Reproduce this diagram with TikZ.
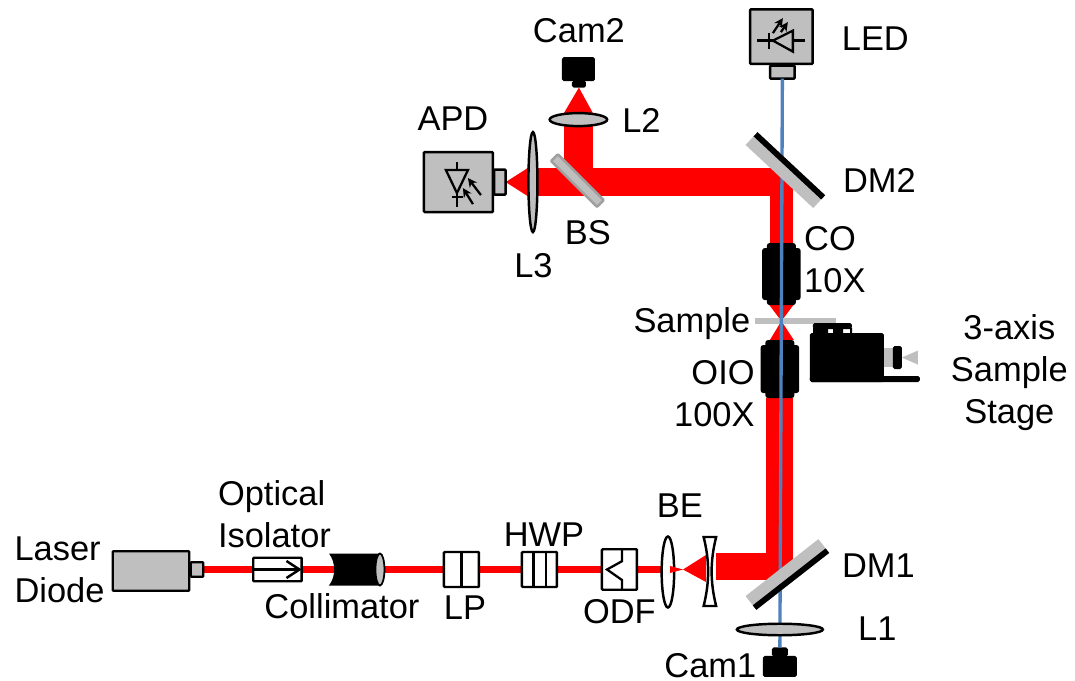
\documentclass[tikz,border=0pt]{standalone}
\usepackage{fontspec}
\setmainfont{Liberation Sans}
\usetikzlibrary{shapes.geometric, arrows, arrows.meta, positioning, backgrounds, calc}
\definecolor{partgray}{HTML}{BFBFBF}
\definecolor{ledblue}{HTML}{4F81BD}
\tikzstyle{part} = [draw, rectangle, line width=1.4pt, inner sep=0pt, outer sep=0pt, rounded corners=0.5pt, fill=partgray]
\tikzstyle{plate} = [part, fill=white]
\tikzstyle{darkpart} = [rectangle, inner sep=0pt, outer sep=0pt, rounded corners=1pt, fill=black]
\tikzstyle{lens} = [draw, ellipse, line width=1.4pt, inner sep=0pt, outer sep=0pt, fill=partgray]
\tikzstyle{objective} = [darkpart, rounded corners=1.5pt, minimum width=0.58cm]
\tikzstyle{objectivebody} = [darkpart, rounded corners=1.5pt, minimum width=0.77cm]
\tikzstyle{dichroic} = [rectangle, inner sep=0pt, outer sep=0pt, fill=partgray, minimum width=1.85cm, minimum height=0.35cm]
\tikzstyle{caption} = [inner sep=0pt, outer sep=0pt, text height=0.5cm, text depth=0pt, font=\fontsize{19.6}{23.9}\selectfont]
\tikzstyle{beam} = [red, line width=3.7pt]
\tikzstyle{fatbeam} = [red, line width=15.3pt]
\tikzstyle{ledbeam} = [ledblue, line width=1.9pt]
\tikzstyle{symbol} = [line width=1.3pt]
\tikzstyle{diodearrow} = [line width=1.3pt,-{Stealth[length=0.18cm,width=0.18cm]}]

\begin{document}
\begin{tikzpicture}[x=0.02cm, y=-0.02cm, node distance=1cm]
    \useasboundingbox (0,0) rectangle (1075,680);

    % Input arm
    \node (LaserDiode) at (151,571) [part, minimum width=1.53cm, minimum height=0.79cm] {};
    \node (LaserPort) [part, right of=LaserDiode, xshift=-0.08cm, yshift=0.03cm, minimum width=0.25cm, minimum height=0.29cm] {};
    \node (Isolator) [plate, right of=LaserPort, xshift=0.61cm, minimum width=0.97cm, minimum height=0.47cm] {};
    \draw [line width=1.4pt,-{Straight Barb[length=0.26cm,width=0.34cm]}] (Isolator.west) -- (Isolator.east);
    \node (Collimator) [inner sep=0pt, outer sep=0pt, right of=Isolator, xshift=0.54cm, minimum width=1.02cm, minimum height=0.64cm] {};
    \fill (Collimator.north west) -- (Collimator.north east) -- (Collimator.south east) -- (Collimator.south west) .. controls +(7,-9) and +(7,9) .. cycle;
    \node (CollimatorEnd) [lens, line width=1pt, at=(Collimator.east), minimum width=0.18cm, minimum height=0.64cm] {};
    \node (LP) [plate, right of=Collimator, xshift=1.14cm, minimum width=0.7cm, minimum height=0.7cm] {};
    \draw [symbol] (LP.north) -- (LP.south);
    \node (HWP) [plate, right of=LP, xshift=0.56cm, minimum width=0.7cm, minimum height=0.7cm] {};
    \draw [symbol] ([xshift=-0.12cm]HWP.north) -- ([xshift=-0.12cm]HWP.south);
    \draw [symbol] ([xshift=0.13cm]HWP.north) -- ([xshift=0.13cm]HWP.south);
    \node (ODF) [plate, right of=HWP, xshift=0.6cm, minimum width=0.7cm, minimum height=0.81cm] {};
    \draw [symbol] ([xshift=0.05cm]ODF.north) -- ++(0,12) -- (607,569.5) -- (622,580) -- ([xshift=0.05cm]ODF.south);

    % Beam expander
    \node (BELens) [lens, fill=white, right of=ODF, xshift=-0.03cm, yshift=-0.05cm, minimum width=0.25cm, minimum height=1.42cm] {};
    \node (BEConcave) [inner sep=0pt, outer sep=0pt, right of=BELens, xshift=-0.16cm, yshift=0.01cm, minimum width=0.25cm, minimum height=1.38cm] {};
    \filldraw [line width=1.4pt, fill=white] (BEConcave.north west) -- (BEConcave.north east) .. controls +(-6,24) and +(-6,-24) .. (BEConcave.south east) -- (BEConcave.south west) .. controls +(6,-24) and +(6,24) .. cycle;
    \coordinate (BEWaist) at (683,569.5);
    \fill [red] (670,566) -- (BEWaist) -- (670,573) -- cycle;

    % Objectives, sample and stage
    \node (OIO) [objective, right of=BEConcave, xshift=0.4cm, yshift=4.05cm, minimum height=1.16cm] {};
    \node (OIOBody) [objectivebody, at=(OIO.center), minimum height=0.96cm] {};
    \node (CO) [objective, above of=OIO, xshift=0.03cm, yshift=0.9cm, minimum height=1.24cm] {};
    \node (COBody) [objectivebody, at=(CO.center), minimum height=1.04cm] {};
    \node (Sample) [inner sep=0pt, outer sep=0pt, fill=partgray, above of=OIO, xshift=0.31cm, yshift=-0.04cm, minimum width=1.62cm, minimum height=0.12cm] {};
    \node (StageBody) [darkpart, right of=OIO, xshift=0.34cm, yshift=0.23cm, minimum width=1.48cm, minimum height=0.98cm] {};
    \node (StageBase) [darkpart, below of=StageBody, xshift=0.36cm, yshift=0.57cm, minimum width=2.2cm, minimum height=0.12cm] {};
    \node (StageTop) [darkpart, above of=StageBody, xshift=-0.29cm, yshift=-0.37cm, minimum width=0.78cm, minimum height=0.12cm] {};
    \fill (813,328) rectangle (828,334) (833,328) rectangle (843,334) (850,328) rectangle (852,334);
    \node (StageRod) [inner sep=0pt, outer sep=0pt, fill=partgray, right of=StageBody, xshift=-0.16cm, minimum width=0.2cm, minimum height=0.38cm] {};
    \node (StageKnob) [darkpart, right of=StageRod, xshift=-0.83cm, minimum width=0.18cm, minimum height=0.46cm] {};
    \fill [partgray] (StageKnob.east) -- ++(16,-7) -- ++(0,14) -- cycle;

    % LED and camera
    \node (LEDPort) [part, above of=CO, xshift=0.02cm, yshift=3.04cm, minimum width=0.49cm, minimum height=0.26cm] {};
    \node (LED) [part, above of=LEDPort, xshift=-0.02cm, yshift=-0.29cm, minimum width=1.25cm, minimum height=1.09cm] {};
    \begin{scope}[shift={(LED.center)}]
        \draw [symbol] (11.5,-6) -- (11.5,15) -- (-8.5,4) -- cycle;
        \draw [symbol] (-12.5,-4) -- (-12.5,12);
        \draw [symbol] (-24.5,4) -- (-8.5,4) (11.5,4) -- (23.5,4);
        \draw [diodearrow] (-8.5,-3.5) -- (1.5,-18.5);
        \draw [diodearrow] (-0.5,-4.5) -- (6.5,-14.5);
    \end{scope}
    \node (CamOne) [darkpart, below of=OIO, yshift=-4.95cm, minimum width=0.68cm, minimum height=0.42cm] {};
    \node (CamOneTop) [darkpart, above of=CamOne, yshift=-0.71cm, minimum width=0.32cm, minimum height=0.18cm] {};
    \draw [ledbeam] (LEDPort.south) -- (CamOneTop.north);

    % Mirrors
    \node (DMOne) [dichroic, below of=OIO, xshift=0.15cm, yshift=-3.11cm, rotate=38] {};
    \fill ($(DMOne.south west)!0.33!(DMOne.north west)$) -- (DMOne.south west) -- (DMOne.south east) -- ($(DMOne.south east)!0.33!(DMOne.north east)$) -- cycle;
    \node (DMTwo) [dichroic, above of=CO, xshift=0.08cm, yshift=1.08cm, rotate=-43] {};
    \fill ($(DMTwo.north west)!0.33!(DMTwo.south west)$) -- (DMTwo.north west) -- (DMTwo.north east) -- ($(DMTwo.north east)!0.33!(DMTwo.south east)$) -- cycle;
    \node (LOne) [lens, above of=CamOne, yshift=-0.26cm, minimum width=1.72cm, minimum height=0.23cm] {};

    % Detection arm
    \node (BS) [part, draw=gray!75, left of=DMTwo, xshift=-3.16cm, yshift=-0.21cm, minimum width=1.3cm, minimum height=0.19cm, rotate=-45] {};
    \node (LTwo) [lens, above of=BS, xshift=0.02cm, yshift=0.22cm, minimum width=1.15cm, minimum height=0.26cm] {};
    \node (CamTwoTop) [darkpart, above of=LTwo, xshift=0.01cm, yshift=-0.29cm, minimum width=0.28cm, minimum height=0.14cm] {};
    \node (CamTwo) [darkpart, above of=CamTwoTop, xshift=-0.01cm, yshift=-0.7cm, minimum width=0.66cm, minimum height=0.48cm] {};
    \node (LThree) [lens, left of=BS, xshift=0.11cm, yshift=-0.03cm, minimum width=0.18cm, minimum height=2.0cm] {};
    \node (APDPort) [part, left of=LThree, xshift=0.34cm, minimum width=0.23cm, minimum height=0.5cm] {};
    \node (APD) [part, left of=APDPort, xshift=0.17cm, minimum width=1.38cm, minimum height=1.2cm] {};
    \begin{scope}[shift={(APD.center)}]
        \draw [symbol] (-12.5,-12) -- (9.5,-12) -- (-1.5,11) -- cycle;
        \draw [symbol] (-1.5,-20) -- (-1.5,-12) (-1.5,11) -- (-1.5,25);
        \draw [symbol] (-6.5,15) -- (4.5,15);
        \draw [diodearrow] (22.5,13) -- (9.5,-4);
        \draw [diodearrow] (14.5,22) -- (4.5,6);
    \end{scope}

    % Laser beams
    \begin{scope}[on background layer]
        \draw [beam] (LaserPort) -- (Isolator);
        \draw [beam] (Isolator) -- (Collimator.center);
        \draw [beam] (Collimator) -- (LP);
        \draw [beam] (LP) -- (HWP);
        \draw [beam] (HWP) -- (ODF);
        \draw [beam] (ODF.east) -- (ODF.east -| BELens.center);
        \fill [red] (BEWaist) -- (706,555) -- (706,582) -- cycle;
        \draw [fatbeam] ([yshift=0.1cm]BEConcave.east) -| (OIO.south);
        \draw [red, line width=13pt] (CO.north) -- (CO.north |- DMTwo.center);
        \draw [red, line width=16.4pt] (CO.north |- LThree.center) -- (LThree.center);
        \draw [red, line width=16.4pt] (LTwo.center) -- (LTwo.center |- LThree.center);
        \fill [red] ([yshift=0.29cm]LThree.west) -- (APDPort.east) -- ([yshift=-0.29cm]LThree.west) -- cycle;
        \fill [red] ([xshift=-0.29cm]LTwo.north) -- (CamTwoTop.south) -- ([xshift=0.29cm]LTwo.north) -- cycle;
        \coordinate (SampleFocus) at (CO.south |- Sample.center);
        \fill [red] ([xshift=-0.24cm]CO.south) -- (SampleFocus) -- ([xshift=0.24cm]CO.south) -- cycle;
        \fill [red] ([xshift=-0.2cm]OIO.north) -- (SampleFocus) -- ([xshift=0.28cm]OIO.north) -- cycle;
    \end{scope}

    % Labels
    \node (LaserText) [caption, align=left, left of=LaserDiode, xshift=-0.83cm, yshift=-0.37cm] {Laser\\Diode};
    \node (IsolatorText) [caption, align=left, above of=Isolator, xshift=-0.06cm, yshift=-0.3cm] {Optical\\Isolator};
    \node (CollimatorText) [caption, below of=Collimator, xshift=-0.25cm, yshift=0.28cm] {Collimator};
    \node (LPText) [caption, below of=LP, xshift=0.07cm, yshift=0.25cm] {LP};
    \node (HWPText) [caption, above of=HWP, xshift=0.09cm, yshift=-0.28cm] {HWP};
    \node (ODFText) [caption, below of=ODF, yshift=0.17cm] {ODF};
    \node (BEText) [caption, above of=BELens, xshift=0.24cm, yshift=0.35cm] {BE};
    \node (DMOneText) [caption, right of=DMOne, xshift=0.82cm, yshift=0.19cm] {DM1};
    \node (LOneText) [caption, right of=LOne, xshift=0.95cm, yshift=0.03cm] {L1};
    \node (CamOneText) [caption, left of=CamOne, xshift=-0.39cm, yshift=0.02cm] {Cam1};
    \node (OIOText) [caption, align=right, left of=OIO, xshift=-0.31cm, yshift=-0.9cm] {OIO\\100X};
    \node (SampleText) [caption, left of=Sample, xshift=-1.07cm, yshift=0.02cm] {Sample};
    \node (COText) [caption, align=left, right of=CO, xshift=0.07cm, yshift=-0.11cm] {CO\\10X};
    \node (StageText) [caption, align=center, right of=StageBody, xshift=2.25cm, yshift=-1.07cm] {3-axis\\Sample\\Stage};
    \node (DMTwoText) [caption, right of=DMTwo, xshift=0.88cm, yshift=-0.2cm] {DM2};
    \node (LEDText) [caption, right of=LED, xshift=0.88cm, yshift=-0.03cm] {LED};
    \node (LTwoText) [caption, right of=LTwo, xshift=0.26cm] {L2};
    \node (CamTwoText) [caption, above of=CamTwo, xshift=0.01cm, yshift=-0.22cm] {Cam2};
    \node (APDText) [caption, above of=APD, xshift=-0.11cm, yshift=0.28cm] {APD};
    \node (BSText) [caption, below of=BS, xshift=0.21cm, yshift=-0.03cm] {BS};
    \node (LThreeText) [caption, below of=LThree, xshift=0.01cm, yshift=-0.66cm] {L3};
\end{tikzpicture}
\end{document}
